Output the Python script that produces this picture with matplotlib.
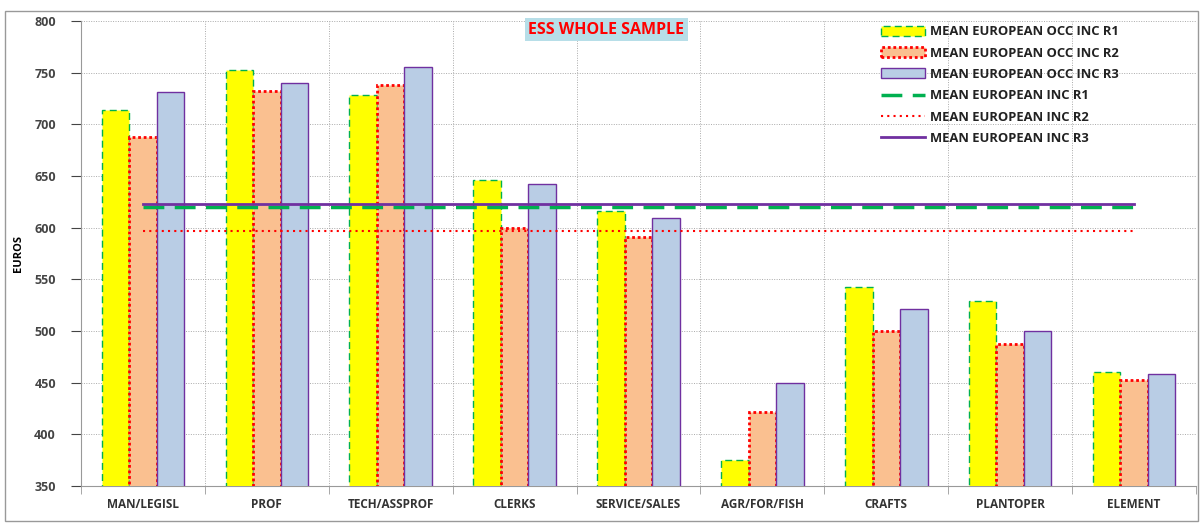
import matplotlib
matplotlib.use("Agg")
import matplotlib.pyplot as plt
import numpy as np
from matplotlib.patches import Rectangle

categories = ["MAN/LEGISL", "PROF", "TECH/ASSPROF", "CLERKS", "SERVICE/SALES",
              "AGR/FOR/FISH", "CRAFTS", "PLANTOPER", "ELEMENT"]
occ_inc_r1 = [714, 753, 728, 646, 616, 375, 543, 529, 460]
occ_inc_r2 = [688, 732, 738, 600, 591, 422, 500, 487, 453]
occ_inc_r3 = [731, 740, 755, 642, 609, 450, 521, 500, 458]
mean_inc_r1 = 620
mean_inc_r2 = 597
mean_inc_r3 = 623
yticks = [350, 400, 450, 500, 550, 600, 650, 700, 750, 800]

plt.rcParams['font.family'] = ['Open Sans', 'DejaVu Sans']

fig = plt.figure(figsize=(12.03, 5.25), dpi=100)
ax = fig.add_axes([0.0673, 0.0743, 0.9269, 0.8857])

x = np.arange(len(categories))
w = 0.222
ax.bar(x - w, occ_inc_r1, w, color="#FFFF00", edgecolor="#00B050",
       linestyle=(0, (5, 3)), linewidth=1.0, label="MEAN EUROPEAN OCC INC R1", zorder=3)
ax.bar(x, occ_inc_r2, w, color="#FAC090", edgecolor="#FF0000",
       linestyle=(0, (1, 1)), linewidth=2.0, label="MEAN EUROPEAN OCC INC R2", zorder=3)
ax.bar(x + w, occ_inc_r3, w, color="#B9CDE5", edgecolor="#7030A0",
       linewidth=1.0, label="MEAN EUROPEAN OCC INC R3", zorder=3)

ax.plot([x[0], x[-1]], [mean_inc_r1] * 2, color="#00B050", linewidth=2.5,
        linestyle=(0, (6, 3)), zorder=4, label="MEAN EUROPEAN INC R1")
ax.plot([x[0], x[-1]], [mean_inc_r2] * 2, color="#FF0000", linewidth=1.5,
        linestyle=(0, (1, 2)), zorder=4, label="MEAN EUROPEAN INC R2")
ax.plot([x[0], x[-1]], [mean_inc_r3] * 2, color="#7030A0", linewidth=2.0,
        zorder=4, label="MEAN EUROPEAN INC R3")

ax.set_xlim(-0.5, len(categories) - 0.5)
ax.set_ylim(350, 800)
ax.set_yticks(yticks)
ax.set_xticks(x)
ax.set_xticklabels(categories, fontsize=8.5, fontweight='bold', color='#333333')
ax.tick_params(axis='x', length=0, pad=9)
ax.tick_params(axis='y', labelsize=9, colors='#444444', length=7, width=0.8, pad=11)
for lbl in ax.get_yticklabels():
    lbl.set_fontweight('bold')
ax.set_xticks(np.arange(len(categories) + 1) - 0.5, minor=True)
ax.tick_params(axis='x', which='minor', length=6, color='#999999')

ax.grid(axis='y', color='#aaaaaa', linestyle=(0, (1, 1.5)), linewidth=0.7, zorder=0)
ax.grid(axis='x', which='minor', color='#aaaaaa', linestyle=(0, (1, 1.5)), linewidth=0.7, zorder=0)
ax.set_axisbelow(True)

for side in ['top', 'right']:
    ax.spines[side].set_visible(False)
ax.spines['left'].set_color('#999999')
ax.spines['bottom'].set_color('#999999')

ax.set_ylabel("EUROS", fontsize=8, fontweight='bold', labelpad=7)

ax.text(0.471, 0.998, "ESS WHOLE SAMPLE", transform=ax.transAxes, ha='center', va='top',
        fontsize=11.5, fontweight='bold', color='#FF0000', zorder=6,
        bbox=dict(boxstyle='square,pad=0.22', facecolor='#B7DEE8', edgecolor='none'))

handles, labels = ax.get_legend_handles_labels()
order = [3, 4, 5, 0, 1, 2]
handles = [handles[i] for i in order]
labels = [labels[i] for i in order]
leg = ax.legend(handles, labels, loc='upper left', bbox_to_anchor=(0.7125, 1.002),
                frameon=False, fontsize=9.4, handlelength=3.4, handleheight=0.8,
                labelspacing=0.64, handletextpad=0.4, borderaxespad=0.0)
for t in leg.get_texts():
    t.set_fontweight('bold')
    t.set_color('#222222')

fig.patches.append(Rectangle((0.004, 0.008), 0.992, 0.971, transform=fig.transFigure,
                             fill=False, edgecolor='#999999', linewidth=1.0))

fig.savefig("out.png", dpi=100)
